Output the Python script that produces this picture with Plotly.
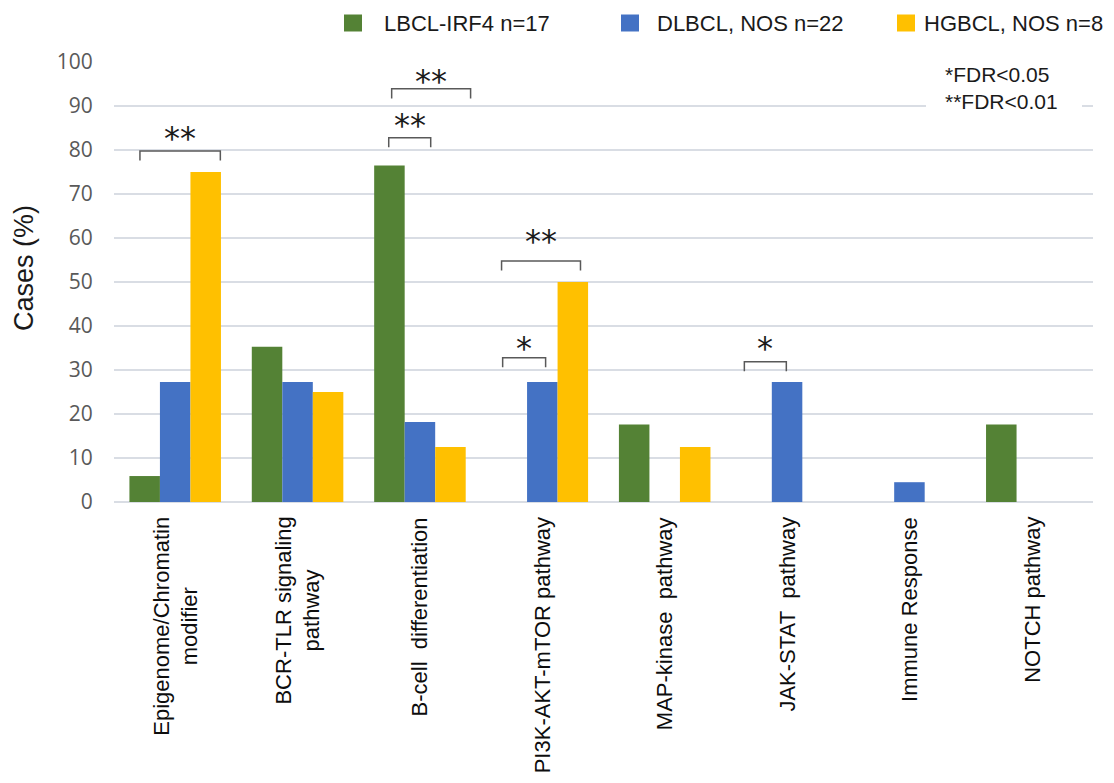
import plotly.graph_objects as go

# Pathway categories and mutation frequencies (% of cases)
categories = [
    "Epigenome/Chromatin<br>modifier",
    "BCR-TLR signaling<br>pathway",
    "B-cell\u00a0 differentiation",
    "PI3K-AKT-mTOR pathway",
    "MAP-kinase\u00a0 pathway",
    "JAK-STAT\u00a0 pathway",
    "Immune Response",
    "NOTCH pathway",
]
series_names = ["LBCL-IRF4 n=17", "DLBCL, NOS n=22", "HGBCL, NOS n=8"]
lbcl_irf4 = [5.9, 35.3, 76.5, 0, 17.6, 0, 0, 17.6]
dlbcl_nos = [27.3, 27.3, 18.2, 27.3, 0, 27.3, 4.5, 0]
hgbcl_nos = [75.0, 25.0, 12.5, 50.0, 12.5, 0, 0, 0]
y_ticks = [0, 10, 20, 30, 40, 50, 60, 70, 80, 90, 100]

# Significance brackets:
# (category index, left offset, right offset, bracket height, star height, label)
brackets = [
    (0, -0.288, 0.369, 79.8, 84.2, "**"),
    (2, -0.255, 0.088, 82.8, 87.0, "**"),
    (2, -0.231, 0.414, 93.9, 97.0, "**"),
    (3, -0.333, 0.312, 54.8, 60.7, "**"),
    (3, -0.324, 0.027, 32.8, 36.4, "*"),
    (5, -0.349, -0.006, 31.9, 36.4, "*"),
]
footnote = "*FDR<0.05<br>**FDR<0.01"

colors = ["#548235", "#4472C4", "#FFC000"]
values = [lbcl_irf4, dlbcl_nos, hgbcl_nos]
xpos = list(range(len(categories)))

W, H = 1114, 783
L, R, T, B = 114, 21, 62, 281
pw, ph = W - L - R, H - T - B


def px_x(p):
    return (p - L) / pw


def px_y(p):
    return (H - B - p) / ph


fig = go.Figure()
for name, vals, col in zip(series_names, values, colors):
    fig.add_trace(go.Bar(x=xpos, y=vals, name=name, marker=dict(color=col, line=dict(width=0)),
                         showlegend=False))

shapes = []
annotations = []

# brackets with stars
for idx, a, b, top, star_y, lab in brackets:
    leg = top - 2.2
    shapes.append(dict(type="path", xref="x", yref="y",
                       path=f"M {idx + a},{leg} L {idx + a},{top} L {idx + b},{top} L {idx + b},{leg}",
                       line=dict(color="#595959", width=1.5)))
    annotations.append(dict(x=idx + (a + b) / 2, y=star_y, xref="x", yref="y",
                            text=lab, showarrow=False, yanchor="middle", xanchor="center",
                            yshift=-6,
                            font=dict(family="DejaVu Sans", size=32, color="#1a1a1a")))

# category labels below the axis
for i, c in enumerate(categories):
    annotations.append(dict(x=i, y=0, xref="x", yref="paper", text=c, textangle=-90,
                            showarrow=False, xanchor="center", yanchor="top", yshift=-13,
                            align="center",
                            font=dict(family="Liberation Sans, Arial", size=22, color="#0d0d0d")))

# y-axis title
annotations.append(dict(x=px_x(24), y=px_y(268), xref="paper", yref="paper", text="Cases (%)",
                        textangle=-90, showarrow=False, xanchor="center", yanchor="middle",
                        font=dict(family="Liberation Sans, Arial", size=27, color="#1a1a1a")))

# legend
legend_sq = [344, 621, 897]
legend_tx = [382, 655, 922]
for sx, tx, col, name in zip(legend_sq, legend_tx, colors, series_names):
    shapes.append(dict(type="rect", xref="paper", yref="paper",
                       x0=px_x(sx), x1=px_x(sx + 18), y0=px_y(31.5), y1=px_y(14.5),
                       fillcolor=col, line=dict(width=0)))
    annotations.append(dict(x=px_x(tx), y=px_y(23), xref="paper", yref="paper", text=name,
                            showarrow=False, xanchor="left", yanchor="middle",
                            font=dict(family="Liberation Sans, Arial", size=22, color="#1a1a1a")))

# footnote box
shapes.append(dict(type="rect", xref="paper", yref="paper", layer="above",
                   x0=px_x(926), x1=px_x(1082), y0=px_y(118), y1=px_y(54),
                   fillcolor="white", line=dict(width=0)))
annotations.append(dict(x=px_x(943), y=px_y(87.5), xref="paper", yref="paper", text=footnote,
                        showarrow=False, xanchor="left", yanchor="middle", align="left",
                        font=dict(family="Liberation Sans, Arial", size=21, color="#1a1a1a")))

fig.update_layout(
    width=W, height=H,
    margin=dict(l=L, r=R, t=T, b=B),
    paper_bgcolor="white", plot_bgcolor="white",
    barmode="group", bargap=0.252, bargroupgap=0,
    shapes=shapes, annotations=annotations,
    xaxis=dict(range=[-0.5, len(categories) - 0.5], showticklabels=False, showgrid=False,
               zeroline=False, showline=False, fixedrange=True),
    yaxis=dict(range=[0, 100], tickvals=y_ticks, showgrid=True, gridcolor="#d9dde4", gridwidth=1.6,
               zeroline=True, zerolinecolor="#d9dde4", zerolinewidth=1.6,
               ticks="outside", ticklen=16, tickcolor="rgba(0,0,0,0)",
               tickfont=dict(family="Open Sans", size=21, color="#595959"), showline=False),
)

fig.write_html("out.html")
